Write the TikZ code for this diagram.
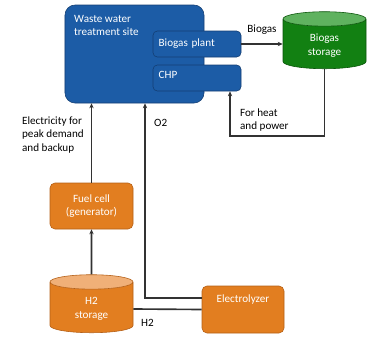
\documentclass[tikz,border=0pt]{standalone}
\usepackage{fontspec}
\setmainfont{Carlito}
\usetikzlibrary{shapes.geometric,arrows.meta}
\definecolor{wwblue}{RGB}{28,92,166}
\definecolor{wwblueline}{RGB}{20,62,115}
\definecolor{stgreen}{RGB}{18,128,18}
\definecolor{stgreentop}{RGB}{95,178,95}
\definecolor{stgreenline}{RGB}{10,85,10}
\definecolor{hyorange}{RGB}{226,126,32}
\definecolor{hyorangetop}{RGB}{240,176,120}
\definecolor{hyorangeline}{RGB}{180,95,22}
\definecolor{flow}{RGB}{50,50,50}
\tikzset{
  bluebox/.style={draw=wwblueline,fill=wwblue,text=white,rounded corners=1.3mm,line width=0.5pt},
  orangebox/.style={draw=hyorangeline,fill=hyorange,text=white,rounded corners=1.5mm,line width=0.5pt,align=center},
  tank/.style={cylinder,shape border rotate=90,aspect=0.35,draw,line width=0.5pt,
    cylinder uses custom fill,text=white,align=center},
  flowline/.style={draw=flow,line width=1.4pt,-{Stealth[length=1.5mm,width=1.3mm]}},
  flowlabel/.style={text=black,align=left},
}
\begin{document}
\begin{tikzpicture}[x=0.3mm,y=-0.3mm,font=\fontsize{9.5}{11.5}\selectfont]
  \useasboundingbox (0,0) rectangle (381,353);
  % treatment site
  \node[bluebox,rounded corners=3mm,minimum width=41.7mm,minimum height=29.4mm] (wwts) at (134.5,54) {};
  \node[text=white,anchor=north west,align=left,inner sep=0pt] (wwtstext) at (74,15) {Waste water\\treatment site};
  \node[bluebox,minimum width=26.4mm,minimum height=7.8mm,text width=23mm,align=left] (plant) at (197,44) {Biogas plant};
  \node[bluebox,minimum width=26.4mm,minimum height=7.8mm,text width=23mm,align=left,text depth=1.8mm] (chp) at (197,78) {CHP};
  % storage tanks
  \node[tank,draw=stgreenline,cylinder body fill=stgreen,cylinder end fill=stgreentop,
    minimum width=24.9mm,minimum height=17.1mm] (bgstore) at (324.5,45.5) {Biogas\\storage};
  \node[tank,draw=hyorangeline,cylinder body fill=hyorange,cylinder end fill=hyorangetop,
    minimum width=24.9mm,minimum height=17.4mm] (h2store) at (91.5,309) {H2\\storage};
  % hydrogen side
  \node[orangebox,minimum width=24.9mm,minimum height=13.8mm] (fcell) at (91.5,206) {Fuel cell\\(generator)};
  \node[orangebox,minimum width=24.6mm,minimum height=14.1mm] (elec) at (243,309.5) {};
  \node[text=white,anchor=north] (electext) at ([yshift=-1.5mm]elec.north) {Electrolyzer};
  % flows
  \draw[flowline] (plant.east) -- node[flowlabel,above=1.5mm] (bglabel) {Biogas} (plant.east -| bgstore.west);
  \coordinate (hp) at (230,136);
  \draw[flowline] (bgstore.south) |- (hp) -- (hp |- chp.south);
  \node[flowlabel,anchor=west] (hplabel) at (236,120) {For heat\\and power};
  \draw[flowline] (fcell.north) -- (fcell.north |- wwts.south);
  \node[flowlabel,anchor=west] (ellabel) at (18,135) {Electricity for\\peak demand\\and backup};
  \coordinate (o2) at (145,298);
  \draw[flowline] (elec.west |- o2) -- (o2) -- (o2 |- wwts.south);
  \node[flowlabel,anchor=west] (o2label) at (150,123) {O2};
  \draw[flowline,-] (h2store.east) -- (elec.west);
  \node[flowlabel,anchor=north west] (h2label) at (137,315) {H2};
  \draw[flowline] (h2store.north) -- (fcell.south);
\end{tikzpicture}
\end{document}
